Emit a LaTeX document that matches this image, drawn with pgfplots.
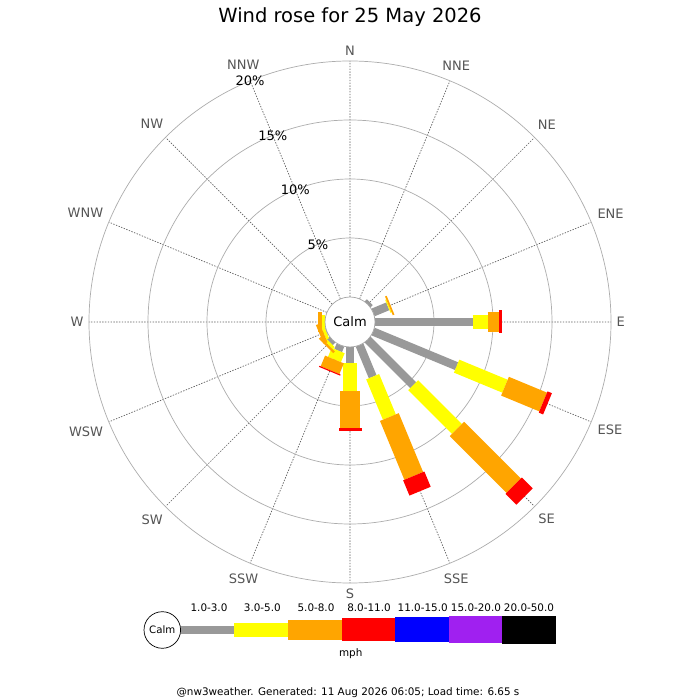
\documentclass[border=0pt]{standalone}
\usepackage{pgfplots}
\pgfplotsset{compat=1.18}
\usepgfplotslibrary{polar}
\usepackage{fontspec}
\setmainfont{DejaVu Sans}
\definecolor{wgray}{HTML}{999999}
\definecolor{wyellow}{HTML}{FFFF00}
\definecolor{worange}{HTML}{FFA500}
\definecolor{wred}{HTML}{FF0000}
\definecolor{wblue}{HTML}{0000FF}
\definecolor{wpurple}{HTML}{A020F0}
\definecolor{labgray}{HTML}{555555}
% one bar per direction: polar angle (0 = E, counter-clockwise), cumulative % ends of 1-3, 3-5, 5-8, 8-11 mph
\newcommand\windbar[5]{%
 \addplot[wgray, line width=8.3pt] coordinates {(#1,0) (#1,#2)};
 \addplot[wyellow, line width=14pt] coordinates {(#1,#2) (#1,#3)};
 \addplot[worange, line width=20.3pt] coordinates {(#1,#3) (#1,#4)};
 \addplot[wred, line width=23pt] coordinates {(#1,#4) (#1,#5)};
}
\begin{document}
\begin{tikzpicture}
\fill[white] (0,0) rectangle (700pt,700pt);
\begin{polaraxis}[
 at={(350pt,378pt)}, anchor=center, scale only axis, width=522pt, height=522pt,
 xmin=0, xmax=360, ymin=0, ymax=22.12,
 xtick={0,22.5,...,337.5},
 xticklabels={E,ENE,NE,NNE,N,NNW,NW,WNW,W,WSW,SW,SSW,S,SSE,SE,ESE},
 ytick={7.12,12.12,17.12}, yticklabels={},
 xmajorgrids, ymajorgrids,
 major x grid style={dash pattern=on 1.4pt off 1.4pt, color=black!62, line width=0.7pt},
 major y grid style={color=black!32, line width=0.7pt},
 x axis line style={color=black!32, line width=0.7pt},
 y axis line style={draw=none},
 tick style={draw=none},
 xticklabel style={font=\fontsize{13}{15}\selectfont, text=labgray, inner sep=5.3pt},
 every axis plot/.append style={no markers, y filter/.expression={y+2.12}},
 clip=false,
]
\windbar{45}{0.25}{0.25}{0.25}{0.25}
\windbar{22.5}{1.35}{1.45}{1.6}{1.6}
\windbar{0}{8.28}{9.55}{10.5}{10.76}
\windbar{337.5}{7.66}{12.1}{15.6}{16.0}
\windbar{315}{5.45}{10.7}{17.5}{18.8}
\windbar{292.5}{2.9}{6.6}{12.0}{13.4}
\windbar{270}{1.38}{3.73}{6.9}{7.1}
\windbar{247.5}{0.5}{1.32}{2.3}{2.4}
\windbar{225}{0.3}{0.55}{0.75}{0.75}
\windbar{202.5}{0.05}{0.3}{0.65}{0.65}
\windbar{180}{0}{0.25}{0.55}{0.55}
\draw[fill=white, draw=black!35, line width=0.7pt] (axis cs:0,0) circle[radius=25pt];
\node[font=\fontsize{13}{15}\selectfont] at (axis cs:0,0) {Calm};
\node[font=\fontsize{13}{15}\selectfont] at (axis cs:112.5,7.12) {5\%};
\node[font=\fontsize{13}{15}\selectfont] at (axis cs:112.5,12.12) {10\%};
\node[font=\fontsize{13}{15}\selectfont] at (axis cs:112.5,17.12) {15\%};
\node[font=\fontsize{13}{15}\selectfont] at (axis cs:112.5,22.12) {20\%};
\end{polaraxis}
% title
\node[font=\fontsize{19.5}{22}\selectfont] at (350pt,683pt) {Wind rose for 25 May 2026};
% legend
\draw[black, line width=0.7pt, fill=white] (162.3pt,70pt) circle[radius=18.3pt];
\node[font=\fontsize{10.2}{12}\selectfont] at (162.3pt,70pt) {Calm};
\fill[wgray] (180.6pt,65.85pt) rectangle (234.3pt,74.15pt);
\fill[wyellow] (234.3pt,63pt) rectangle (287.7pt,77pt);
\fill[worange] (287.7pt,59.85pt) rectangle (341.7pt,80.15pt);
\fill[wred] (341.7pt,58.5pt) rectangle (395pt,81.5pt);
\fill[wblue] (395pt,57.5pt) rectangle (449pt,82.5pt);
\fill[wpurple] (449pt,56.5pt) rectangle (501.7pt,83.5pt);
\fill[black] (501.7pt,55.65pt) rectangle (556pt,84.35pt);
\begin{scope}[every node/.style={font=\fontsize{10.4}{12}\selectfont}]
\node at (209pt,92.7pt) {1.0-3.0};
\node at (262.3pt,92.7pt) {3.0-5.0};
\node at (316pt,92.7pt) {5.0-8.0};
\node at (369pt,92.7pt) {8.0-11.0};
\node at (422.7pt,92.7pt) {11.0-15.0};
\node at (476pt,92.7pt) {15.0-20.0};
\node at (529pt,92.7pt) {20.0-50.0};
\node at (350.7pt,46.7pt) {mph};
\node at (348pt,7.3pt) {@nw3weather. Generated: 11 Aug 2026 06:05; Load time: 6.65 s};
\end{scope}
\pgfresetboundingbox
\path[use as bounding box] (0,0) rectangle (700pt,700pt);
\end{tikzpicture}
\end{document}
